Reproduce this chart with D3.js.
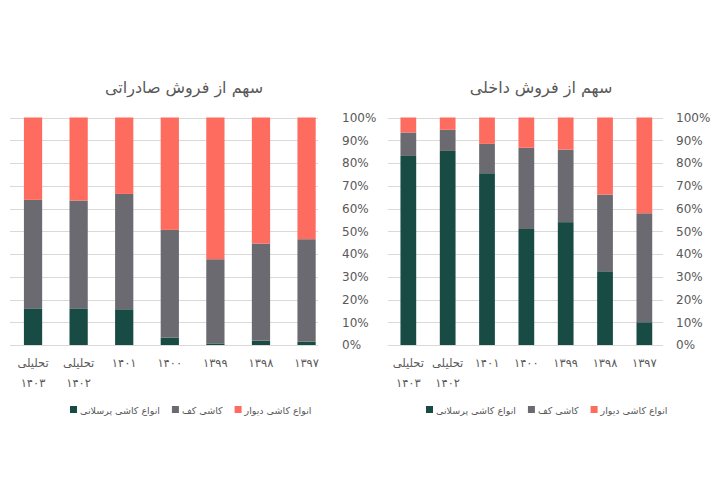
<!DOCTYPE html>
<html><head><meta charset="utf-8">
<script src="https://cdn.jsdelivr.net/npm/d3@7/dist/d3.min.js"></script>
<style>
html,body{margin:0;padding:0;background:#fff;}
svg{display:block;}
text{font-family:"DejaVu Sans","Noto Sans",sans-serif;fill:#595959;}
</style></head>
<body><svg id="c" width="720" height="480"></svg>
<script>
// categories (chronological); drawn right-to-left
const categories = ["۱۳۹۷","۱۳۹۸","۱۳۹۹","۱۴۰۰","۱۴۰۱","تحلیلی ۱۴۰۲","تحلیلی ۱۴۰۳"];
const seriesNames = ["انواع کاشی پرسلانی","کاشی کف","انواع کاشی دیوار"];
const seriesColors = ["#174b44","#6b6a70","#fe6c5f"];
const yTicks = [0,10,20,30,40,50,60,70,80,90,100];

// export share (%)
const exportPorcelain = [1.5, 1.9, 0.7, 3.2, 15.7, 16.1, 16.1];
const exportFloor     = [45.0, 42.7, 37.0, 47.4, 50.7, 47.4, 47.7];
const exportWall      = [53.5, 55.4, 62.3, 49.4, 33.6, 36.5, 36.2];
// domestic share (%)
const domesticPorcelain = [10.0, 32.4, 54.0, 51.0, 75.5, 85.3, 83.1];
const domesticFloor     = [47.9, 33.7, 31.9, 35.7, 12.9, 9.3, 10.3];
const domesticWall      = [42.1, 33.9, 14.1, 13.3, 11.6, 5.4, 6.6];

const svg = d3.select("#c");

function drawChart(cfg){
  const rows = categories.map((c,i)=>({cat:c, s0:cfg.vals[0][i], s1:cfg.vals[1][i], s2:cfg.vals[2][i]}));
  const stack = d3.stack().keys(["s0","s1","s2"])(rows);
  const x = d3.scaleBand().domain(categories.slice().reverse())
      .range(cfg.xr).paddingInner(0.6).paddingOuter(0.2);
  const y = d3.scaleLinear().domain([0,100]).range([345,117.5]);
  const g = svg.append("g");
  // gridlines
  g.append("g").selectAll("line").data(yTicks).join("line")
    .attr("x1",cfg.grid[0]).attr("x2",cfg.grid[1])
    .attr("y1",d=>Math.round(y(d))+0.5).attr("y2",d=>Math.round(y(d))+0.5)
    .attr("stroke","#d9d9d9").attr("stroke-width",1);
  // right axis labels
  const ax = d3.axisRight(y).tickValues(yTicks).tickFormat(d=>d+"%").tickSize(0).tickPadding(0);
  const axg = g.append("g").attr("transform",`translate(${cfg.labelX},0)`).call(ax);
  axg.select(".domain").remove();
  axg.selectAll("text").attr("font-family","'Open Sans','Noto Sans',sans-serif").attr("font-size",12).attr("fill","#595959");
  // bars
  g.append("g").selectAll("g").data(stack).join("g").attr("fill",(d,i)=>seriesColors[i])
    .selectAll("rect").data(d=>d).join("rect")
    .attr("x",d=>x(d.data.cat)).attr("width",x.bandwidth())
    .attr("y",d=>y(d[1])).attr("height",d=>y(d[0])-y(d[1]));
  // category labels
  const cl = g.append("g").selectAll("text").data(categories).join("text")
    .attr("text-anchor","middle").attr("font-size",11.5)
    .attr("x",d=>x(d)+x.bandwidth()/2).attr("y",367);
  cl.each(function(d){
    const parts = d.split(" ");
    const t = d3.select(this);
    parts.forEach((p,i)=>t.append("tspan").attr("x",x(d)+x.bandwidth()/2).attr("dy",i?20:0).text(p));
  });
  // title
  g.append("text").attr("x",cfg.titleX).attr("y",93).attr("text-anchor","middle")
    .attr("font-size",16).attr("direction","rtl").attr("fill","#595959").text(cfg.title);
  // legend (square left of text)
  const lg = g.append("g");
  let lx = cfg.legendX;
  seriesNames.forEach((n,i)=>{
    lg.append("rect").attr("x",lx).attr("y",406).attr("width",7).attr("height",7).attr("fill",seriesColors[i]);
    const t = lg.append("text").attr("x",lx+10).attr("y",413.5).attr("font-size",9.5).attr("text-anchor","start").text(n);
    lx += 10 + t.node().getComputedTextLength() + cfg.legendGap;
  });
}

drawChart({vals:[exportPorcelain,exportFloor,exportWall], xr:[14.8,324.8], grid:[10,318], labelX:342,
  titleX:184, title:"سهم از فروش صادراتی", legendX:70, legendGap:12});
drawChart({vals:[domesticPorcelain,domesticFloor,domesticWall], xr:[392.6,660.1], grid:[388,663], labelX:676,
  titleX:541, title:"سهم از فروش داخلی", legendX:426, legendGap:12});
</script></body></html>
